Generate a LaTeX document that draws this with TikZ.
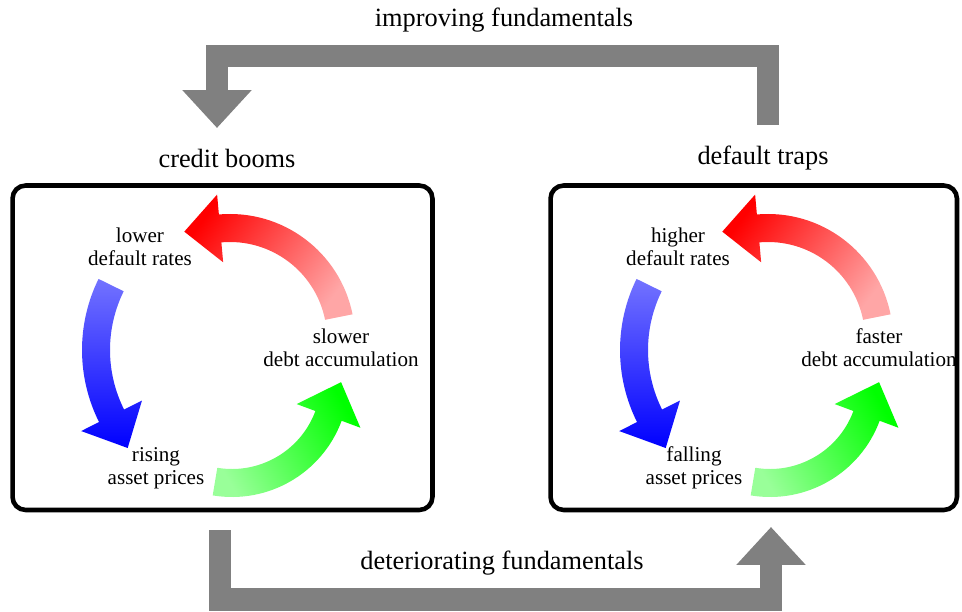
\documentclass[tikz,border=0pt]{standalone}
\usepackage{fontspec}
\setmainfont{Liberation Serif}
\usetikzlibrary{arrows.meta}

\tikzset{
  panel/.style={draw, line width=2.6pt, rounded corners=0.26cm},
  heading/.style={font=\fontsize{15}{17}\selectfont},
  lbl/.style={align=center, font=\fontsize{12}{13}\selectfont},
  fund/.style={draw=gray, line width=13pt, -{Triangle[width=38pt,length=21.5pt]}},
}

% curved arrow: centre x, centre y, radius, tail angle, head angle,
% tail colour, head colour, shading angle
\newcommand{\cyclearrow}[8]{%
  \shade[top color=#7, bottom color=#6, shading angle=#8]
    ([shift={(#1,#2)}]#4:#3+14) arc[start angle=#4, end angle=#5, radius=#3+14]
    -- ([shift={(#1,#2)}]#5:#3+34)
    -- ([shift={(#1,#2)},shift={(#5:#3)}]#5+90:36)
    -- ([shift={(#1,#2)}]#5:#3-34)
    -- ([shift={(#1,#2)}]#5:#3-14)
    arc[start angle=#5, end angle=#4, radius=#3-14] -- cycle;
}

\begin{document}
\begin{tikzpicture}[x=0.02cm, y=0.02cm]
    \useasboundingbox (0,0) rectangle (962,-611);

    \node[panel, minimum width=8.4cm, minimum height=6.49cm] (boomsbox) at (222.5,-347.75) {};
    \node[panel, minimum width=8.13cm, minimum height=6.49cm] (trapsbox) at (753.75,-347.75) {};

    \node[heading] (booms) at (227,-158) {credit booms};
    \node[heading] (traps) at (763,-158) {default traps};
    \node[heading] (improving) at (504,-20) {improving fundamentals};
    \node[heading] (deteriorating) at (502,-563) {deteriorating fundamentals};

    % credit booms
    \cyclearrow{230}{-339}{111}{11.4}{95.1}{red!35}{red}{53}
    \cyclearrow{243}{-350}{147}{153.8}{206.6}{blue!55}{blue}{180}
    \cyclearrow{232}{-380}{103}{260.5}{339.6}{green!40}{green}{-60}
    \node[lbl] (lower) at (140,-247) {lower\\default rates};
    \node[lbl] (slower) at (341,-348) {slower\\debt accumulation};
    \node[lbl] (rising) at (156,-468) {rising\\asset prices};

    % default traps
    \cyclearrow{768}{-339}{111}{11.4}{95.1}{red!35}{red}{53}
    \cyclearrow{781}{-350}{147}{153.8}{206.6}{blue!55}{blue}{180}
    \cyclearrow{770}{-380}{103}{260.5}{339.6}{green!40}{green}{-60}
    \node[lbl] (higher) at (678,-247) {higher\\default rates};
    \node[lbl] (faster) at (879,-348) {faster\\debt accumulation};
    \node[lbl] (falling) at (694,-468) {falling\\asset prices};

    \coordinate (imp-from) at (768,-125);
    \coordinate (imp-bend) at (768,-56);
    \coordinate (imp-to) at (217,-128);
    \draw[fund] (imp-from) -- (imp-bend) -| (imp-to);

    \coordinate (det-from) at (220,-530);
    \coordinate (det-bend) at (771,-599.5);
    \coordinate (det-to) at (771,-527);
    \draw[fund] (det-from) |- (det-bend) -- (det-to);
\end{tikzpicture}
\end{document}
